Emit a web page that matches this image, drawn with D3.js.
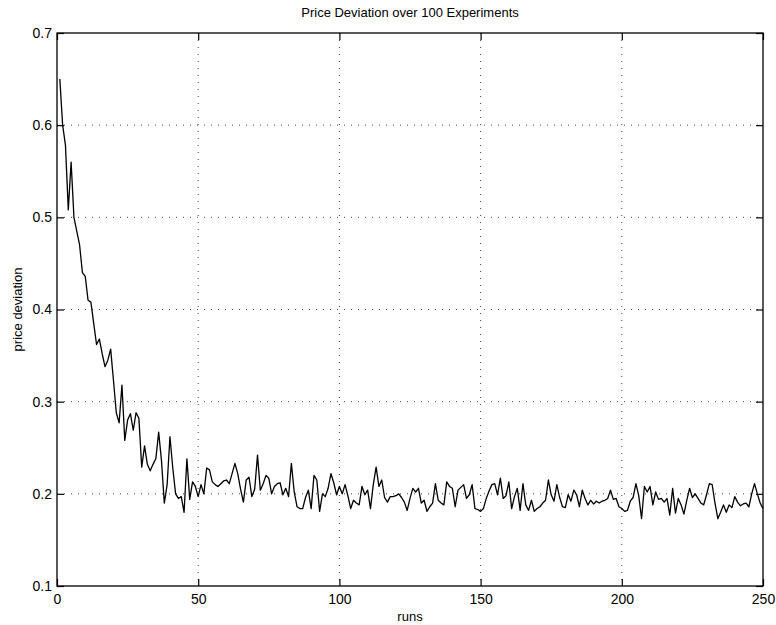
<!DOCTYPE html>
<html>
<head>
<meta charset="utf-8">
<script src="https://cdn.jsdelivr.net/npm/d3@7"></script>
<style>
  body { margin: 0; background: #fff; }
  text { font-family: "Liberation Sans", Arial, Helvetica, sans-serif; fill: #000; }
  .tick text { font-size: 14px; }
  .tick line { stroke: #000; stroke-width: 1.2; }
  .grid line { stroke: #444; stroke-width: 1; stroke-dasharray: 1,6; }
</style>
</head>
<body>
<svg class="chart"></svg>
<script>
// x ticks and y ticks
const xTicks = [0, 50, 100, 150, 200, 250];
const yTicks = [0.1, 0.2, 0.3, 0.4, 0.5, 0.6, 0.7];

// price deviation per run, runs 1..250
const deviation = [
  0.650, 0.600, 0.578, 0.508, 0.560, 0.500, 0.485, 0.470, 0.440, 0.436,
  0.410, 0.408, 0.385, 0.362, 0.368, 0.352, 0.338, 0.345, 0.357, 0.323,
  0.288, 0.277, 0.318, 0.258, 0.280, 0.287, 0.269, 0.288, 0.282, 0.229,
  0.252, 0.232, 0.225, 0.232, 0.238, 0.267, 0.236, 0.190, 0.210, 0.262,
  0.228, 0.200, 0.195, 0.197, 0.180, 0.238, 0.194, 0.213, 0.208, 0.197,
  0.210, 0.200, 0.228, 0.226, 0.213, 0.210, 0.208, 0.211, 0.214, 0.215,
  0.211, 0.222, 0.233, 0.222, 0.205, 0.191, 0.215, 0.218, 0.197, 0.205,
  0.242, 0.204, 0.211, 0.220, 0.217, 0.200, 0.208, 0.211, 0.212, 0.199,
  0.206, 0.197, 0.233, 0.202, 0.186, 0.184, 0.184, 0.196, 0.204, 0.184,
  0.220, 0.215, 0.181, 0.200, 0.197, 0.206, 0.222, 0.212, 0.199, 0.208,
  0.200, 0.210, 0.198, 0.184, 0.193, 0.190, 0.188, 0.208, 0.199, 0.204,
  0.184, 0.210, 0.229, 0.208, 0.215, 0.196, 0.191, 0.197, 0.197, 0.198,
  0.200, 0.196, 0.191, 0.182, 0.195, 0.206, 0.202, 0.206, 0.190, 0.193,
  0.181, 0.186, 0.190, 0.211, 0.193, 0.190, 0.188, 0.213, 0.208, 0.206,
  0.186, 0.204, 0.207, 0.210, 0.195, 0.199, 0.210, 0.184, 0.183, 0.181,
  0.184, 0.195, 0.203, 0.210, 0.211, 0.199, 0.217, 0.195, 0.198, 0.213,
  0.184, 0.197, 0.206, 0.182, 0.211, 0.188, 0.182, 0.193, 0.181, 0.184,
  0.186, 0.190, 0.193, 0.215, 0.199, 0.192, 0.210, 0.196, 0.186, 0.185,
  0.199, 0.192, 0.204, 0.199, 0.186, 0.204, 0.195, 0.188, 0.193, 0.189,
  0.192, 0.190, 0.192, 0.193, 0.195, 0.204, 0.194, 0.195, 0.186, 0.184,
  0.181, 0.182, 0.192, 0.196, 0.211, 0.198, 0.173, 0.208, 0.202, 0.208,
  0.188, 0.202, 0.194, 0.195, 0.191, 0.195, 0.177, 0.206, 0.179, 0.195,
  0.188, 0.178, 0.193, 0.206, 0.196, 0.200, 0.195, 0.190, 0.188, 0.199,
  0.211, 0.210, 0.190, 0.173, 0.180, 0.188, 0.180, 0.188, 0.185, 0.197,
  0.191, 0.187, 0.189, 0.190, 0.186, 0.200, 0.211, 0.200, 0.190, 0.184
];

const data = deviation.map((v, i) => ({run: i + 1, value: v}));

const margin = {top: 33, right: 13, bottom: 39, left: 57};
const width = 776 - margin.left - margin.right;
const height = 625 - margin.top - margin.bottom;

const x = d3.scaleLinear().domain([0, 250]).range([0, width]);
const y = d3.scaleLinear().domain([0.1, 0.7]).range([height, 0]);

const svg = d3.select(".chart")
    .attr("width", width + margin.left + margin.right)
    .attr("height", height + margin.top + margin.bottom)
  .append("g")
    .attr("transform", "translate(" + margin.left + "," + margin.top + ")");

// dotted grid
svg.append("g")
    .attr("class", "grid")
    .selectAll("line.v")
    .data(xTicks.slice(1, -1))
    .enter().append("line")
      .attr("x1", d => x(d)).attr("x2", d => x(d))
      .attr("y1", 0).attr("y2", height);

svg.append("g")
    .attr("class", "grid")
    .selectAll("line.h")
    .data(yTicks.slice(1, -1))
    .enter().append("line")
      .attr("x1", 0).attr("x2", width)
      .attr("y1", d => y(d)).attr("y2", d => y(d));

// the line
const line = d3.line()
    .x(d => x(d.run))
    .y(d => y(d.value));

svg.append("path")
    .datum(data)
    .attr("fill", "none")
    .attr("stroke", "#000")
    .attr("stroke-width", 1.3)
    .attr("stroke-linejoin", "round")
    .attr("d", line);

// axes, ticks pointing inward on all four sides
const fmt = d3.format(".1f");

svg.append("g")
    .attr("transform", "translate(0," + height + ")")
    .call(d3.axisBottom(x).tickValues(xTicks).tickSize(-7).tickPadding(8))
    .call(g => g.select(".domain").remove());

svg.append("g")
    .call(d3.axisTop(x).tickValues(xTicks).tickSize(-7).tickFormat(""))
    .call(g => g.select(".domain").remove());

svg.append("g")
    .call(d3.axisLeft(y).tickValues(yTicks).tickSize(-7).tickPadding(5).tickFormat(fmt))
    .call(g => g.select(".domain").remove());

svg.append("g")
    .attr("transform", "translate(" + width + ",0)")
    .call(d3.axisRight(y).tickValues(yTicks).tickSize(-7).tickFormat(""))
    .call(g => g.select(".domain").remove());

svg.selectAll(".tick text").attr("fill", "#000").style("font-size", "14px");

// frame
svg.append("rect")
    .attr("width", width)
    .attr("height", height)
    .attr("fill", "none")
    .attr("stroke", "#000")
    .attr("stroke-width", 1.3);

// title
svg.append("text")
    .attr("x", width / 2)
    .attr("y", -16)
    .style("text-anchor", "middle")
    .style("font-size", "13px")
    .text("Price Deviation over 100 Experiments");

// x axis label
svg.append("text")
    .attr("x", width / 2)
    .attr("y", height + 35)
    .style("text-anchor", "middle")
    .style("font-size", "13px")
    .text("runs");

// y axis label
svg.append("text")
    .attr("transform", "rotate(-90)")
    .attr("x", -height / 2)
    .attr("y", -35)
    .style("text-anchor", "middle")
    .style("font-size", "13px")
    .text("price deviation");
</script>
</body>
</html>
